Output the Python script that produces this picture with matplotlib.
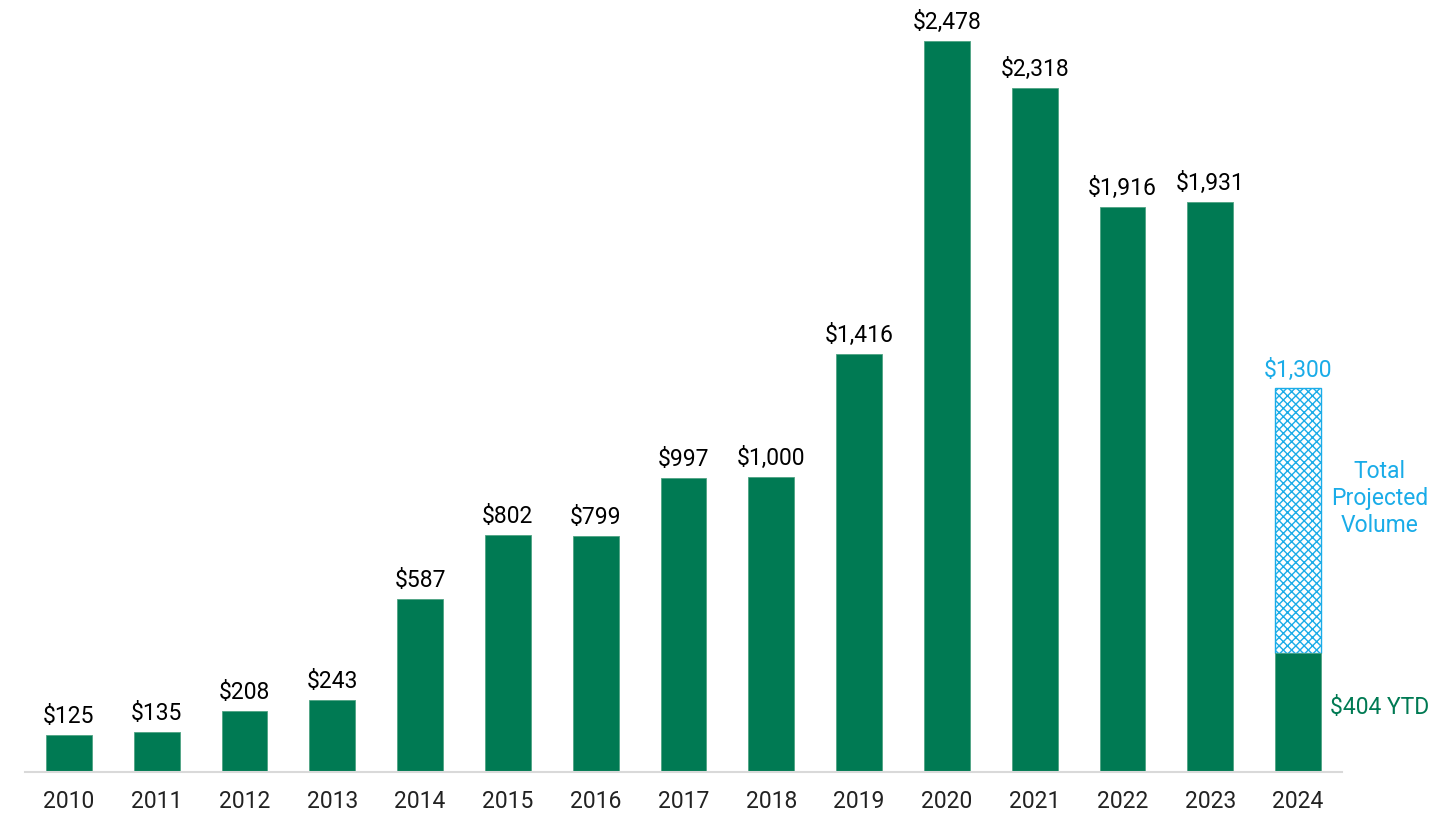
import matplotlib.pyplot as plt
import numpy as np

plt.rcParams['font.family'] = ['Roboto', 'DejaVu Sans']
plt.rcParams['hatch.linewidth'] = 1.0

years = ['2010', '2011', '2012', '2013', '2014', '2015', '2016', '2017',
         '2018', '2019', '2020', '2021', '2022', '2023', '2024']
volume = [125, 135, 208, 243, 587, 802, 799, 997, 1000, 1416, 2478, 2318, 1916, 1931]
ytd_2024 = 404
projected_2024 = 1300

green = '#007A53'
blue = '#1AACE8'
fs = 16.5

fig = plt.figure(figsize=(14.4, 8.26), dpi=100)
ax = fig.add_axes([25 / 1440, 54 / 826, 1317 / 1440, 772 / 826])

x = np.arange(len(years))
w = 0.52

ax.bar(x[:-1], volume, width=w, color=green, edgecolor='#4FA383', linewidth=0.6)
for xi, v in zip(x[:-1], volume):
    ax.annotate(f'${v:,}', (xi, v), xytext=(0, 5), textcoords='offset points',
                ha='center', va='bottom', fontsize=fs, color='black')

# 2024: projected total (hatched) with YTD portion
ax.bar(x[-1], projected_2024 - ytd_2024, bottom=ytd_2024, width=w, color='white',
       edgecolor=blue, hatch='xxxx', linewidth=1.0)
ax.bar(x[-1], ytd_2024, width=w, color=green, edgecolor='#4FA383', linewidth=0.6)
ax.annotate(f'${projected_2024:,}', (x[-1], projected_2024), xytext=(0, 5),
            textcoords='offset points', ha='center', va='bottom', fontsize=fs, color=blue)
ax.annotate('Total\nProjected\nVolume', (x[-1] + 0.93, (ytd_2024 + projected_2024) / 2 + 75),
            ha='center', va='center', fontsize=fs, color=blue, linespacing=1.2,
            annotation_clip=False)
ax.annotate(f'${ytd_2024} YTD', (x[-1] + 0.93, ytd_2024 / 2 + 15),
            ha='center', va='center', fontsize=fs, color=green, annotation_clip=False)

ax.set_xlim(-0.5, len(years) - 0.5)
ax.set_ylim(0, 772 / 0.295)
ax.set_xticks(x)
ax.set_xticklabels(years, fontsize=fs, color='#222222')
ax.tick_params(axis='x', length=0, pad=13)
ax.set_yticks([])
for s in ['top', 'right', 'left']:
    ax.spines[s].set_visible(False)
ax.spines['bottom'].set_color('#D9D9D9')
ax.spines['bottom'].set_linewidth(1.5)

fig.savefig('out.png', dpi=100)
